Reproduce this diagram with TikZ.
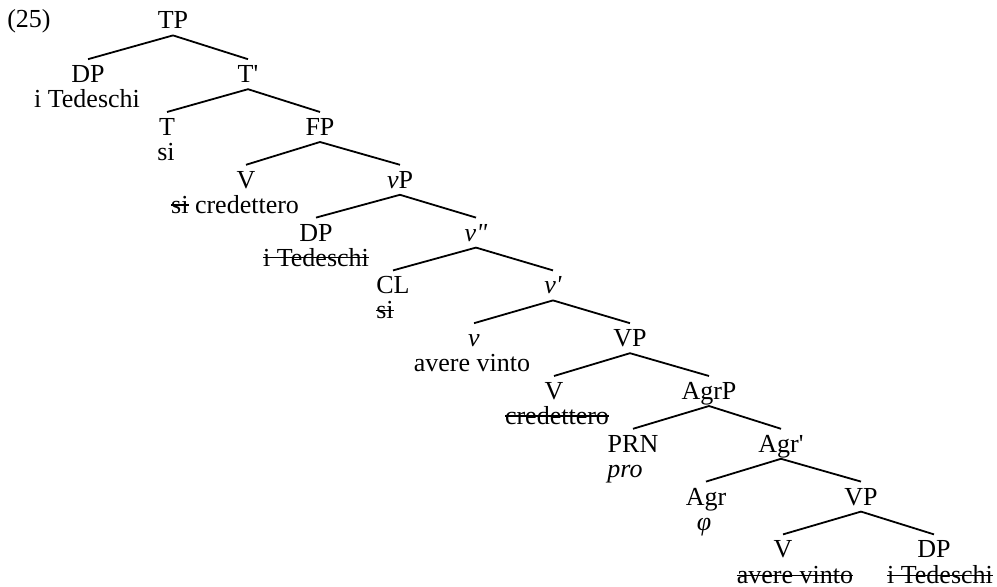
\documentclass[tikz,border=0pt]{standalone}
\usepackage{fontspec}
\setmainfont{Liberation Serif}[Ligatures=TeXOff]
% struck-out (deleted copy) text
\newsavebox\strkbox
\newcommand\strk[1]{\sbox\strkbox{#1}\rlap{\usebox\strkbox}\rule[0.3em]{\wd\strkbox}{0.06em}}
\newcommand\sq{\symbol{39}}
\newcommand\dq{\symbol{34}}
\begin{document}
\begin{tikzpicture}[x=0.5pt,y=-0.5pt,
  font=\fontsize{13}{15}\selectfont,
  cat/.style={anchor=base, text height=8.6pt, text depth=0pt, inner xsep=1pt, inner ysep=3pt},
  word/.style={anchor=base, inner sep=0pt},
  branch/.style={line width=0.9pt}]
\useasboundingbox (0,0) rectangle (997,587);

\node[word] (ex) at (29,28) {(25)};

% right-branching spine
\node[cat] (s0) at (173,29)    {TP};
\node[cat] (s1) at (248,82.8)  {T\sq};
\node[cat] (s2) at (320,135.6) {FP};
\node[cat] (s3) at (400,188.4) {\textit{v}P};
\node[cat] (s4) at (476,241.2) {\textit{v\dq}};
\node[cat] (s5) at (553,294)   {\textit{v\sq}};
\node[cat] (s6) at (630,346.8) {VP};
\node[cat] (s7) at (709,399.6) {AgrP};
\node[cat] (s8) at (781,452.4) {Agr\sq};
\node[cat] (s9) at (861,505.2) {VP};
\node[cat] (s10) at (934,558)  {DP};

% left daughters
\node[cat] (l1) at (88,82.8)   {DP};
\node[cat] (l2) at (167,135.6) {T};
\node[cat] (l3) at (246,188.4) {V};
\node[cat] (l4) at (316,241.2) {DP};
\node[cat] (l5) at (393,294)   {CL};
\node[cat] (l6) at (474,346.8) {\textit{v}};
\node[cat] (l7) at (554,399.6) {V};
\node[cat] (l8) at (633,452.4) {PRN};
\node[cat] (l9) at (706,505.2) {Agr};
\node[cat] (l10) at (783,558)  {V};

% lexical material
\node[word] (w1) at (87,107.8)  {i Tedeschi};
\node[word] (w2) at (166,160.6) {si};
\node[word] (w3) at (247,213.4) {\llap{\strk{si} }credettero};
\node[word] (w4) at (316,266.2) {\strk{i Tedeschi}};
\node[word] (w5) at (385,319)   {\strk{si}};
\node[word] (w6) at (472,371.8) {avere vinto};
\node[word] (w7) at (557,424.6) {\strk{credettero}};
\node[word] (w8) at (625,477.4) {\textit{pro}};
\node[word] (w9) at (704,530.2) {\textit{φ}};
\node[word] (w10) at (795,584)  {\strk{avere vinto}};
\node[word] (w11) at (940,584)  {\strk{i Tedeschi}};

% branches
\foreach \p/\c in {0/1,1/2,2/3,3/4,4/5,5/6,6/7,7/8,8/9,9/10}{
  \draw[branch] (s\p.south) -- (l\c.north);
  \draw[branch] (s\p.south) -- (s\c.north);
}
\end{tikzpicture}
\end{document}
